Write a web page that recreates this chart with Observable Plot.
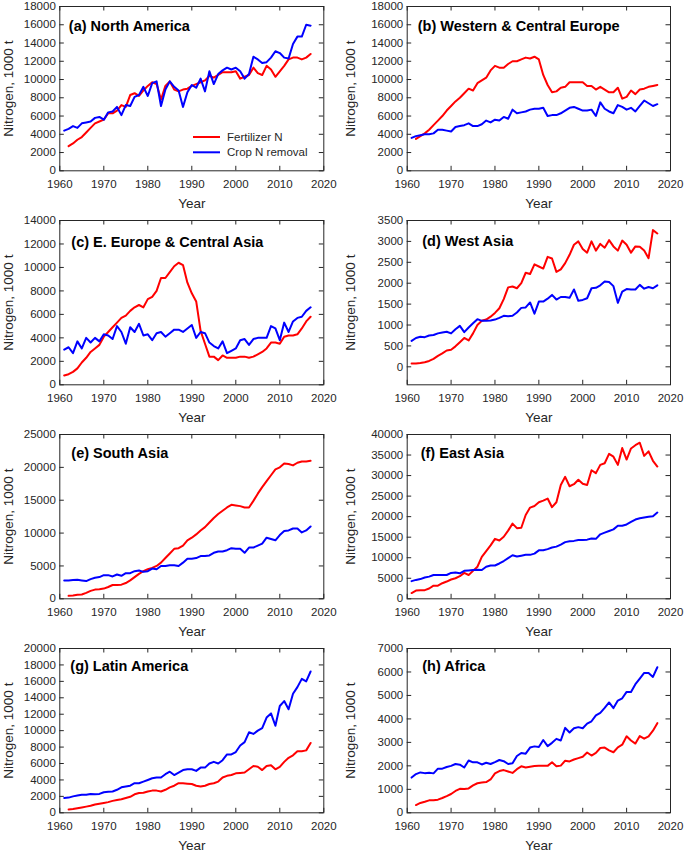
<!DOCTYPE html>
<html><head><meta charset="utf-8">
<script src="https://cdn.jsdelivr.net/npm/d3@7"></script>
<script src="https://cdn.jsdelivr.net/npm/@observablehq/plot@0.6"></script>
<style>
body{margin:0;background:#fff;}
#chart{position:relative;width:685px;height:854px;overflow:hidden;font-family:"Liberation Sans",Arial,sans-serif;}
#chart svg{position:absolute;}
</style></head><body><div id="chart"></div>
<script>
const years = [1961,1962,1963,1964,1965,1966,1967,1968,1969,1970,
1971,1972,1973,1974,1975,1976,1977,1978,1979,1980,
1981,1982,1983,1984,1985,1986,1987,1988,1989,1990,
1991,1992,1993,1994,1995,1996,1997,1998,1999,2000,
2001,2002,2003,2004,2005,2006,2007,2008,2009,2010,
2011,2012,2013,2014,2015,2016,2017];
const xTicks = [1960,1970,1980,1990,2000,2010,2020];

const naFert = [null,2700,3000,3400,3700,4200,4700,5200,5400,5600,
6300,6300,6600,7200,7000,8300,8500,8200,8800,9300,
9700,9500,7800,9300,9800,8900,8700,8900,9000,9300,
9500,9700,9900,10400,10200,10500,10800,10800,10800,10900,
10100,10300,10500,11300,10700,10500,11500,11100,10300,10900,
11500,12200,12400,12400,12200,12400,12800];
const naCrop = [4400,4600,4900,4700,5200,5300,5400,5800,5900,5600,
6400,6500,7000,6100,7200,7100,8100,8300,9200,8200,
9600,9800,7100,8900,9800,9200,8800,7000,8600,9400,
9100,10100,8700,10900,9500,10600,11000,11300,11100,11300,
10900,10100,10600,12500,12200,11800,11900,12400,13100,12900,
12400,12300,13900,14700,14700,16000,15900];

const weFert = [null,3500,3800,4100,4500,5000,5500,6000,6600,7100,
7600,8000,8500,9000,8800,9600,9900,10200,11000,11500,
11300,11300,11700,12000,12000,12200,12400,12300,12500,12200,
10500,9400,8600,8700,9100,9200,9700,9700,9700,9700,
9300,9300,8900,9200,8900,8600,8600,9100,7900,8100,
8800,8400,8900,9000,9200,9300,9400];
const weCrop = [3600,3800,3900,4000,4000,4100,4500,4500,4400,4300,
4800,4900,5000,5200,4900,4900,5100,5500,5300,5600,
5500,5900,5700,6700,6300,6400,6500,6700,6800,6800,
6900,6000,6100,6100,6300,6600,6900,7000,6800,6600,
6600,6700,6000,7500,6800,6500,6300,7200,7000,6700,
6900,6500,7100,7700,7400,7100,7300];

const eeFert = [800,900,1100,1400,1900,2300,2800,3100,3400,4100,
4500,4900,5300,5700,5900,6300,6600,6800,6600,7300,
7500,8000,9100,9100,9600,10100,10400,10200,8700,7800,
7100,4600,3500,2400,2400,2100,2500,2300,2300,2300,
2400,2400,2300,2400,2600,2800,3100,3600,3600,3500,
4100,4200,4200,4300,4800,5400,5800];
const eeCrop = [3000,3200,2700,3700,3100,4000,3600,4000,3700,4300,
4200,3900,5000,4500,3500,4900,4500,5200,4200,4300,
3800,4400,4500,4100,4400,4700,4700,4500,4800,5100,
4000,4500,4400,3600,3300,3100,3700,2700,2900,3100,
3800,3900,3400,3900,4000,4000,4000,5000,4800,3800,
5300,4500,5400,5700,5800,6300,6600];

const waFert = [80,80,90,110,140,190,260,320,390,410,
490,590,690,630,800,1000,1100,1130,1200,1290,
1400,1620,1900,1920,1880,2000,2250,2220,2450,2400,
2350,2630,2590,2270,2330,2480,2680,2920,3000,2820,
2730,3000,2780,2940,2850,3030,2880,2780,3020,2920,
2730,2880,2870,2780,2600,3270,3190];
const waCrop = [620,690,720,710,750,760,800,820,840,800,
900,980,830,940,1040,1140,1100,1100,1110,1130,
1170,1220,1210,1220,1300,1410,1420,1540,1270,1560,
1560,1630,1720,1610,1670,1670,1650,1850,1580,1600,
1640,1880,1890,1950,2040,2030,1930,1530,1800,1860,
1850,1850,1960,1870,1910,1880,1950];

const saFert = [null,450,500,600,650,900,1200,1400,1450,1550,
1800,2100,2100,2150,2400,2800,3300,3800,4200,4500,
4700,5000,5500,6200,6900,7600,7700,8100,8900,9300,
9800,10400,10900,11600,12300,12900,13400,13900,14300,14200,
14100,13900,13900,14900,16000,17000,17900,18800,19700,20000,
20600,20500,20300,20700,20900,20900,21000];
const saCrop = [2800,2800,2850,2900,2800,2700,3000,3200,3300,3600,
3600,3400,3700,3500,3900,3900,4200,4300,4100,4200,
4600,4500,5000,5000,5100,5100,5000,5500,6100,6100,
6200,6500,6500,6600,7000,7200,7200,7400,7700,7600,
7600,7000,7800,7800,8100,8400,9300,9100,8900,9700,
10300,10400,10700,10700,10100,10400,11000];

const eaFert = [1400,2000,2100,2100,2500,3200,3200,3800,4200,4700,
5000,5500,6300,5800,6800,7800,10200,11600,13000,14600,
14200,15100,16600,18300,17200,17300,20400,22200,22600,23500,
23900,24400,22300,23500,27700,29700,27400,27900,29000,28000,
27700,31300,30600,32600,33000,35300,34600,32600,36700,33900,
36600,37400,38000,34800,35900,33600,32200];
const eaCrop = [4300,4600,4800,5200,5400,5800,5800,5800,5800,6300,
6400,6200,6800,6900,7000,7100,7000,7800,8100,8100,
8600,9200,9900,10600,10300,10500,10700,10700,11000,11800,
11800,12100,12500,12700,13200,13800,14000,14100,14300,14300,
14400,14700,14600,15700,16100,16500,16900,17800,17800,18100,
18700,19300,19600,19800,20000,20100,21000];

const laFert = [null,400,450,550,650,750,850,1000,1100,1200,
1300,1450,1550,1650,1800,1950,2250,2400,2450,2600,
2700,2700,2600,2800,3100,3300,3600,3600,3550,3500,
3300,3200,3300,3500,3600,3800,4300,4500,4600,4800,
4850,4900,5300,5700,5600,5200,5700,5800,5300,5600,
6200,6700,7000,7500,7500,7600,8500];
const laCrop = [1800,1850,2000,2100,2200,2200,2300,2250,2300,2500,
2550,2600,2800,3100,3200,3300,3600,3600,3800,4000,
4200,4300,4300,4700,5000,4600,4900,5200,5300,5300,
5100,5500,5500,6000,6200,6000,6400,7100,7100,7400,
8200,8600,9800,9600,10000,10300,11600,12100,10600,13000,
13600,12600,14500,15300,16300,16000,17200];

const afFert = [null,330,420,470,530,530,560,630,710,800,
930,1020,1010,1040,1170,1260,1290,1310,1420,1680,
1780,1820,1760,1700,1860,1980,1930,1960,1990,2000,
2000,2000,2150,1980,2010,2220,2190,2270,2330,2390,
2570,2440,2550,2760,2780,2660,2580,2790,2900,3260,
3080,2950,3270,3160,3260,3500,3820];
const afCrop = [1500,1650,1720,1690,1710,1680,1880,1880,1950,2000,
2080,2050,1930,2230,2150,2150,2060,2130,2080,2160,
2250,2200,2080,2110,2420,2550,2520,2780,2830,2800,
3100,2840,2980,3150,3080,3620,3420,3600,3650,3600,
3800,3900,4150,4260,4470,4700,4460,4780,4880,5150,
5150,5480,5720,5960,5960,5790,6200];

const titles = ["(a) North America","(b) Western & Central Europe","(c) E. Europe & Central Asia","(d) West Asia",
  "(e) South Asia","(f) East Asia","(g) Latin America","(h) Africa"];
const fertSeries = [naFert, weFert, eeFert, waFert, saFert, eaFert, laFert, afFert];
const cropSeries = [naCrop, weCrop, eeCrop, waCrop, saCrop, eaCrop, laCrop, afCrop];
const yDomains = [[0,18000],[0,18000],[0,14000],[-430,3500],[0,25000],[0,40000],[0,20000],[0,7000]];
const yTickLists = [
  [0,2000,4000,6000,8000,10000,12000,14000,16000,18000],
  [0,2000,4000,6000,8000,10000,12000,14000,16000,18000],
  [0,2000,4000,6000,8000,10000,12000,14000],
  [0,500,1000,1500,2000,2500,3000,3500],
  [0,5000,10000,15000,20000,25000],
  [0,5000,10000,15000,20000,25000,30000,35000,40000],
  [0,2000,4000,6000,8000,10000,12000,14000,16000,18000,20000],
  [0,1000,2000,3000,4000,5000,6000,7000]
];
const seriesNames = ["Fertilizer N","Crop N removal"];
const xLabel = "Year";
const yLabel = "Nitrogen, 1000 t";

// layout (styling only)
const FERT_COLOR = "#ff0000", CROP_COLOR = "#0000ff", INK = "#262626";
const rowTops = [6, 220, 434, 648.3];
const FH = 164.3, SVG_H = 214, MT = 6;
const titleOffsets = [[9,24],[10.5,24],[11.5,26],[15,25.5],[11.5,23.5],[13.5,23.5],[10.5,22],[15,22]];

const chart = document.getElementById("chart");

for (let k = 0; k < 8; k++) {
  const col = k % 2, row = Math.floor(k / 2);
  const left = col === 0 ? 0 : 342;
  const width = col === 0 ? 342 : 343;
  const ml = col === 0 ? 59.3 : 64.7;
  const mr = col === 0 ? 18.7 : 15;
  const fw = width - ml - mr;
  const mb = SVG_H - MT - FH;
  const fert = fertSeries[k], crop = cropSeries[k], yt = yTickLists[k];
  const svg = Plot.plot({
    width, height: SVG_H,
    marginLeft: ml, marginRight: mr, marginTop: MT, marginBottom: mb,
    style: {fontFamily: '"Liberation Sans", Arial, sans-serif', fontSize: "11.5px", color: INK, background: "transparent", overflow: "visible"},
    x: {domain: [1960, 2020]},
    y: {domain: yDomains[k]},
    marks: [
      Plot.line(years, {x: d => d, y: (d, i) => fert[i], stroke: FERT_COLOR, strokeWidth: 2, strokeLinejoin: "round"}),
      Plot.line(years, {x: d => d, y: (d, i) => crop[i], stroke: CROP_COLOR, strokeWidth: 2, strokeLinejoin: "round"}),
      Plot.frame({stroke: INK, strokeWidth: 1}),
      Plot.ruleX(xTicks, {x: d => d, insetTop: FH - 4.5, stroke: INK}),
      Plot.ruleX(xTicks, {x: d => d, insetBottom: FH - 4.5, stroke: INK}),
      Plot.ruleY(yt, {y: d => d, insetRight: fw - 4.5, stroke: INK}),
      Plot.ruleY(yt, {y: d => d, insetLeft: fw - 4.5, stroke: INK}),
      Plot.axisX({ticks: xTicks, tickSize: 0, tickPadding: 9, tickFormat: d => String(d), label: null, fill: INK}),
      Plot.axisY({ticks: yt, tickSize: 0, tickPadding: 4, tickFormat: d => String(d), label: null, fill: INK}),
      Plot.text([titles[k]], {text: d => d, frameAnchor: "top-left", textAnchor: "start", lineAnchor: "bottom",
        dx: titleOffsets[k][0], dy: titleOffsets[k][1], fontWeight: "bold", fontSize: 14.5, fill: "#000"}),
      Plot.text([xLabel], {text: d => d, frameAnchor: "bottom", textAnchor: "middle", lineAnchor: "bottom", dy: 37, fontSize: 13.5, fill: INK}),
      Plot.text([yLabel], {text: d => d, frameAnchor: "left", textAnchor: "middle", lineAnchor: "middle", rotate: -90, dx: -(ml - 8.5), fontSize: 13.5, fill: INK})
    ]
  });
  svg.style.left = left + "px";
  svg.style.top = (rowTops[row] - MT) + "px";
  if (k === 0) {
    const g = d3.select(svg).append("g")
      .attr("font-family", '"Liberation Sans", Arial, sans-serif').attr("font-size", "11.5px")
      .attr("text-anchor", "start");
    const entries = [[seriesNames[0], FERT_COLOR, 137], [seriesNames[1], CROP_COLOR, 152.3]];
    for (const [label, color, y] of entries) {
      g.append("line").attr("x1", 193).attr("x2", 220).attr("y1", y).attr("y2", y)
        .attr("stroke", color).attr("stroke-width", 2);
      g.append("text").attr("x", 227).attr("y", y).attr("dy", "0.35em").attr("text-anchor", "start")
        .attr("fill", INK).text(label);
    }
  }
  chart.appendChild(svg);
}
</script></body></html>
